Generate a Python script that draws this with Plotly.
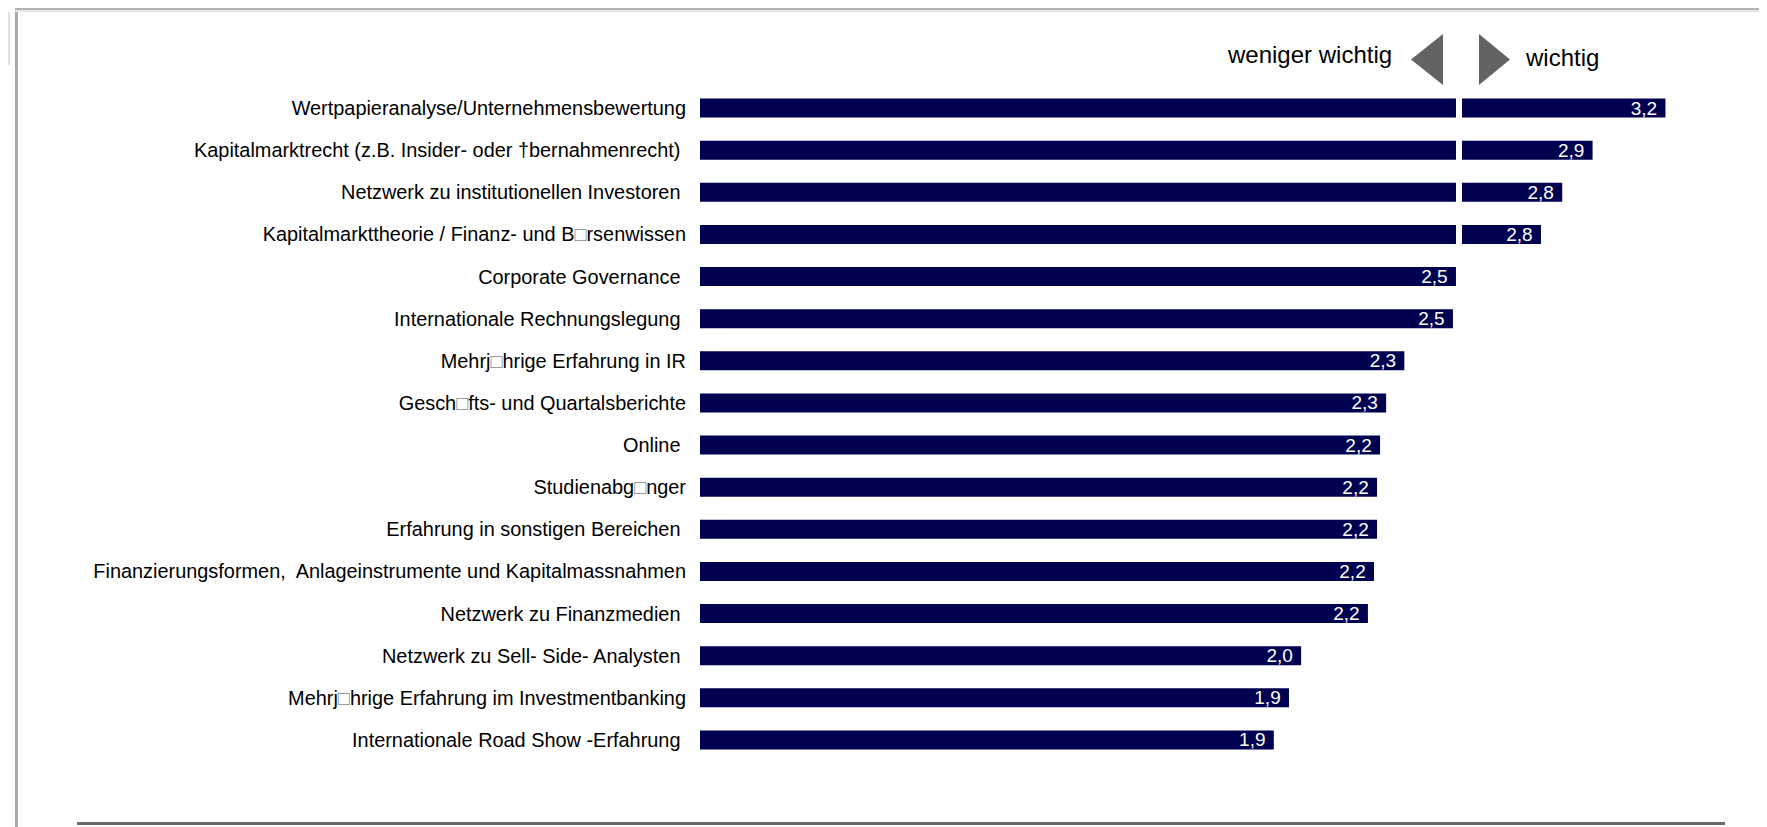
import plotly.graph_objects as go

# Anforderungen an IR-Manager, Mittelwerte (oben = am wichtigsten)
BOX = '<span style="color:#8c8c8c">\u25a1</span>'  # fehlendes Zeichen wie im Original
kriterien = [
    "Wertpapieranalyse/Unternehmensbewertung",
    "Kapitalmarktrecht (z.B. Insider- oder †bernahmenrecht) ",
    "Netzwerk zu institutionellen Investoren ",
    f"Kapitalmarkttheorie / Finanz- und B{BOX}rsenwissen",
    "Corporate Governance ",
    "Internationale Rechnungslegung ",
    f"Mehrj{BOX}hrige Erfahrung in IR",
    f"Gesch{BOX}fts- und Quartalsberichte",
    "Online ",
    f"Studienabg{BOX}nger",
    "Erfahrung in sonstigen Bereichen ",
    "Finanzierungsformen,  Anlageinstrumente und Kapitalmassnahmen",
    "Netzwerk zu Finanzmedien ",
    "Netzwerk zu Sell- Side- Analysten ",
    f"Mehrj{BOX}hrige Erfahrung im Investmentbanking",
    "Internationale Road Show -Erfahrung ",
]
mittelwerte = [3.18, 2.94, 2.84, 2.77, 2.49, 2.48, 2.32, 2.26,
               2.24, 2.23, 2.23, 2.22, 2.20, 1.98, 1.94, 1.89]
mitte = 2.5  # Trennlinie zwischen "weniger wichtig" und "wichtig"

# Seite 1767x827, der Body hat 8px Rand
OFF = 8
W, H = 1767 - 2 * OFF, 827 - OFF
L, T = 700 - OFF, 87 - OFF
R, B = W - (1700 - OFF), H - (761 - OFF)
px_per_unit = 303.6
x_max = (W - L - R) / px_per_unit

FONT = "Liberation Sans, Arial, sans-serif"
NAVY = "#000050"
GRAU = "#636363"


def px_x(px):
    # Seitenpixel -> paper
    return (px - OFF - L) / (W - L - R)


def px_y(py):
    return (H - B - (py - OFF)) / (H - T - B)


labels = [f"{v:.1f}".replace(".", ",") + "\u00a0" for v in mittelwerte]

fig = go.Figure(
    go.Bar(
        x=mittelwerte,
        y=kriterien,
        orientation="h",
        marker=dict(color=NAVY, line=dict(width=0)),
        text=labels,
        textposition="inside",
        insidetextanchor="end",
        textfont=dict(family=FONT, size=19, color="white"),
        hoverinfo="skip",
        cliponaxis=False,
    )
)

fig.update_xaxes(range=[0, x_max], visible=False, fixedrange=True)
fig.update_yaxes(
    autorange="reversed",
    showgrid=False,
    showline=False,
    zeroline=False,
    ticks="",
    ticklabelstandoff=13,
    tickfont=dict(family=FONT, size=19.9, color="black"),
    fixedrange=True,
)

shapes = [
    # weisse Trennlinie bei 2,5
    dict(type="line", xref="x", yref="paper", x0=mitte, x1=mitte, y0=0, y1=1,
         line=dict(color="white", width=6), layer="above"),
    # Pfeile
    dict(type="path", xref="x", yref="paper", xsizemode="pixel", xanchor=mitte,
         path=f"M-16,{px_y(34)} L-16,{px_y(85)} L-48,{px_y(59.5)} Z",
         fillcolor=GRAU, line=dict(width=0)),
    dict(type="path", xref="x", yref="paper", xsizemode="pixel", xanchor=mitte,
         path=f"M20,{px_y(34)} L20,{px_y(85)} L51,{px_y(59.5)} Z",
         fillcolor=GRAU, line=dict(width=0)),
    # Rahmen
    dict(type="line", xref="paper", yref="paper", x0=px_x(16.5), x1=px_x(16.5),
         y0=px_y(5), y1=px_y(830), line=dict(color="#a8a8a8", width=3)),
    dict(type="line", xref="paper", yref="paper", x0=px_x(15), x1=px_x(1770),
         y0=px_y(8.5), y1=px_y(8.5), line=dict(color="#b4b4b4", width=3)),
    dict(type="line", xref="paper", yref="paper", x0=px_x(15), x1=px_x(1770),
         y0=px_y(11), y1=px_y(11), line=dict(color="#e6e6e6", width=2)),
    dict(type="line", xref="paper", yref="paper", x0=px_x(9), x1=px_x(9),
         y0=px_y(12), y1=px_y(65), line=dict(color="#e2e2e2", width=2)),
    dict(type="line", xref="paper", yref="paper", x0=px_x(77), x1=px_x(1725),
         y0=px_y(823.5), y1=px_y(823.5), line=dict(color="#6a6a6a", width=3)),
]

annotations = [
    dict(text="weniger wichtig", xref="x", yref="paper", x=mitte, y=px_y(55),
         xanchor="right", yanchor="middle", xshift=-65, showarrow=False,
         font=dict(family=FONT, size=24, color="black")),
    dict(text="wichtig", xref="x", yref="paper", x=mitte, y=px_y(57.5),
         xanchor="left", yanchor="middle", xshift=64, showarrow=False,
         font=dict(family=FONT, size=24, color="black")),
]

fig.update_layout(
    width=W,
    height=H,
    margin=dict(l=L, r=R, t=T, b=B),
    bargap=0.55,
    showlegend=False,
    plot_bgcolor="white",
    paper_bgcolor="white",
    uniformtext=dict(minsize=19, mode="show"),
    shapes=shapes,
    annotations=annotations,
    font=dict(family=FONT),
)

fig.write_html("out.html", config={"displayModeBar": False})
